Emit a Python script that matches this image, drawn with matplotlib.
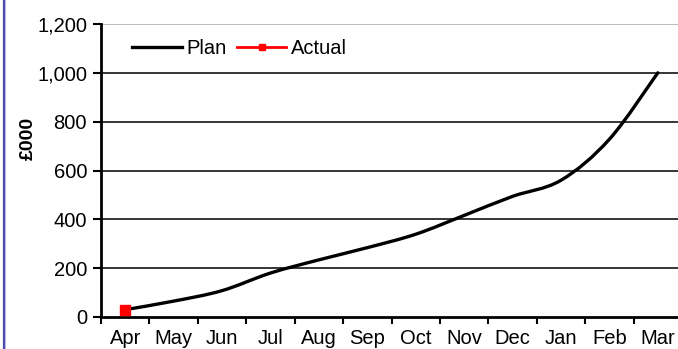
import numpy as np
import matplotlib.pyplot as plt
from matplotlib.path import Path
from matplotlib.patches import PathPatch
from matplotlib.lines import Line2D

plt.rcParams['font.family'] = ['Liberation Sans', 'DejaVu Sans']

months = ['Apr', 'May', 'Jun', 'Jul', 'Aug', 'Sep', 'Oct', 'Nov', 'Dec', 'Jan', 'Feb', 'Mar']
plan = [30, 65, 108, 180, 234, 284, 339, 416, 494, 560, 728, 1000]
actual = [30]

W, H = 678, 349
fig = plt.figure(figsize=(W / 100, H / 100), dpi=100)
# plot area runs a little past the right edge of the figure
ax = fig.add_axes([101 / W, 32 / H, 581 / W, 293 / H])

x = np.arange(len(months)) + 0.5
y = np.array(plan, dtype=float)

# smoothed plan line: catmull-rom segments turned into cubic beziers
verts = [(x[0], y[0])]
codes = [Path.MOVETO]
for i in range(len(x) - 1):
    p0 = np.array([x[max(i - 1, 0)], y[max(i - 1, 0)]])
    p1 = np.array([x[i], y[i]])
    p2 = np.array([x[i + 1], y[i + 1]])
    p3 = np.array([x[min(i + 2, len(x) - 1)], y[min(i + 2, len(x) - 1)]])
    c1 = p1 + (p2 - p0) / 6
    c2 = p2 - (p3 - p1) / 6
    verts += [tuple(c1), tuple(c2), tuple(p2)]
    codes += [Path.CURVE4] * 3
ax.add_patch(PathPatch(Path(verts, codes), facecolor='none', edgecolor='black',
                       lw=2.4, capstyle='round', zorder=3))

ax.plot(x[:len(actual)], actual, color='red', lw=2, marker='s', ms=6.5,
        markeredgecolor='red', zorder=4, clip_on=False)

fs = 14.5
ax.set_xlim(0, 12)
ax.set_ylim(0, 1200)
ax.set_yticks(range(0, 1201, 200))
ax.set_yticklabels([f'{v:,}' for v in range(0, 1201, 200)])
ax.set_xticks(range(0, 13))
ax.set_xticklabels([])
ax.set_xticks(x, minor=True)
ax.set_xticklabels(months, minor=True)
ax.tick_params(axis='x', which='major', direction='out', length=5, width=1.5, color='black')
ax.tick_params(axis='x', which='minor', length=0, pad=9, labelsize=fs)
ax.tick_params(axis='y', direction='out', length=6, width=1.5, labelsize=fs, pad=4)

for v in range(200, 1001, 200):
    ax.axhline(v, color='black', lw=1.1, zorder=1)
ax.axhline(1200, color='#b8b8b8', lw=1.3, zorder=1)

for s in ['top', 'right']:
    ax.spines[s].set_visible(False)
ax.spines['left'].set_linewidth(2)
ax.spines['bottom'].set_linewidth(2)

fig.text(28 / W, 1 - 138 / H, '£000', rotation=90, fontsize=14, fontweight='bold',
         ha='center', va='center')

handles = [Line2D([], [], color='black', lw=2.4),
           Line2D([], [], color='red', lw=2, marker='s', ms=5)]
ax.legend(handles, ['Plan', 'Actual'], loc='center left', bbox_to_anchor=(0.054, 0.915),
          ncol=2, frameon=False, fontsize=fs, handlelength=2.45, handletextpad=0.25,
          columnspacing=0.5, borderpad=0, borderaxespad=0)

# blue frame edge on the left
fig.add_artist(Line2D([3.5 / W, 3.5 / W], [0, 1], color='#4a4aaa', lw=1.6))
fig.add_artist(Line2D([5 / W, 5 / W], [0, 1], color='#b8b8e0', lw=0.8))

fig.savefig('out.png', dpi=100)
